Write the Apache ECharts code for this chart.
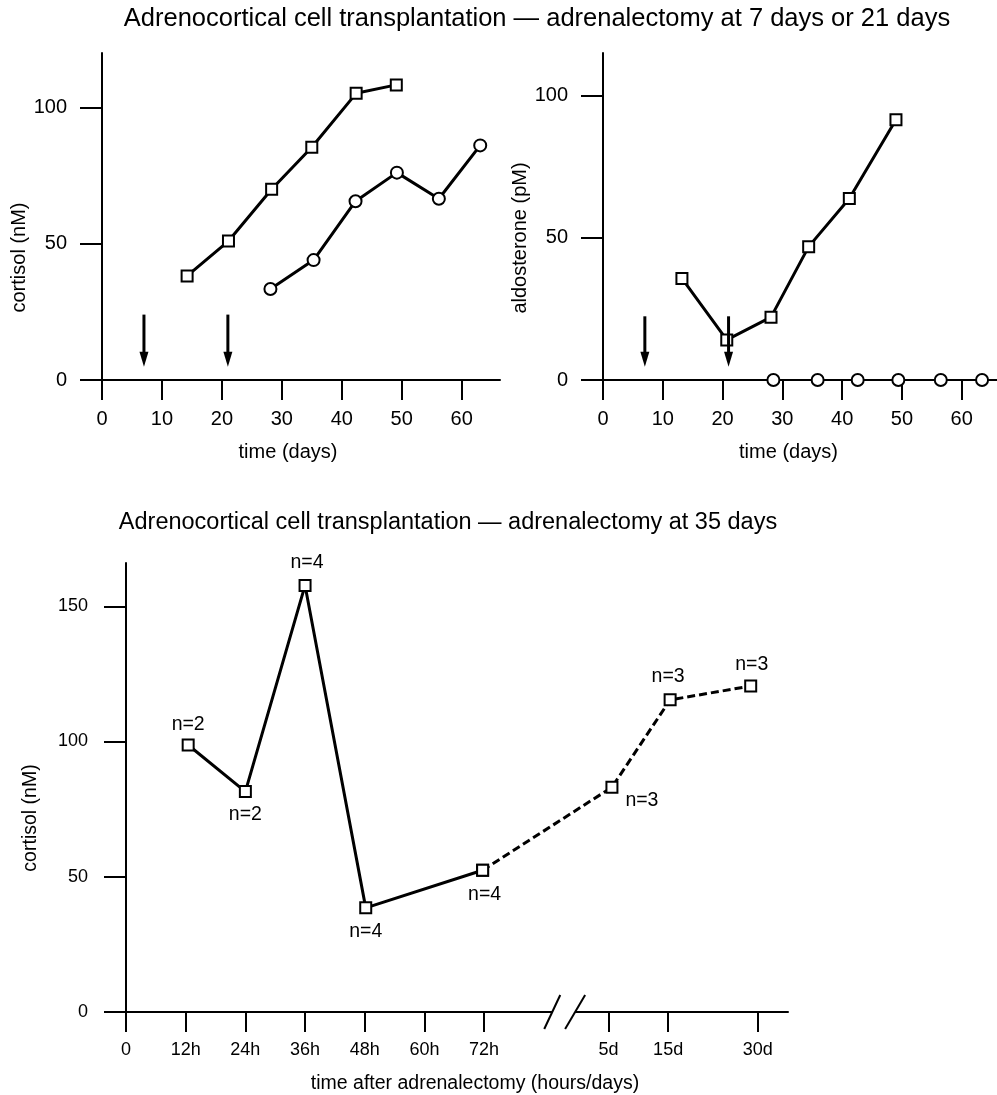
<!DOCTYPE html>
<html>
<head>
<meta charset="utf-8">
<script src="https://cdn.jsdelivr.net/npm/echarts@6/dist/echarts.min.js"></script>
<style>
html,body{margin:0;padding:0;background:#fff;}
#main{width:997px;height:1095px;}
</style>
</head>
<body>
<div id="main"></div>
<script>
// ---------- DATA ----------
// Top-left: cortisol (nM) vs time (days)
const cortSqDays = [14.2, 21.1, 28.3, 35.0, 42.4, 49.1];
const cortSqVals = [38.2, 51.0, 70.0, 85.4, 105.2, 108.3];
const cortCiDays = [28.1, 35.3, 42.3, 49.2, 56.2, 63.1];
const cortCiVals = [33.4, 44.0, 65.6, 76.1, 66.5, 86.1];
// Top-right: aldosterone (pM) vs time (days)
const aldoSqDays = [13.2, 20.7, 28.1, 34.4, 41.2, 49.0];
const aldoSqVals = [35.7, 14.1, 22.1, 46.9, 63.8, 91.5];
const aldoCiDays = [28.5, 35.9, 42.6, 49.4, 56.5, 63.4];
const aldoCiVals = [0, 0, 0, 0, 0, 0];
// Adrenalectomy arrows (days)
const arrowDays = [7, 21];
// Bottom: cortisol after adrenalectomy at 35 days
const botPositions = [12.5, 24, 36, 48.2, 71.7, 97.7, 109.4, 125.6];
const botVals = [98.7, 81.5, 157.7, 38.5, 52.4, 83.1, 115.4, 120.5];
const botN = ['n=2', 'n=2', 'n=4', 'n=4', 'n=4', 'n=3', 'n=3', 'n=3'];
const solidCount = 5; // first 5 points joined by solid line, rest dashed
// Tick labels
const dayTicks = [0, 10, 20, 30, 40, 50, 60];
const topLeftYTicks = [0, 50, 100];
const topRightYTicks = [0, 50, 100];
const botYTicks = [0, 50, 100, 150];
const botTickPositions = [0, 12, 24, 36, 48, 60, 72, 97, 109, 127];
const botTickLabels = ['0', '12h', '24h', '36h', '48h', '60h', '72h', '5d', '15d', '30d'];
const titleTop = 'Adrenocortical cell transplantation \u2014 adrenalectomy at 7 days or 21 days';
const titleBottom = 'Adrenocortical cell transplantation \u2014 adrenalectomy at 35 days';

// ---------- STYLE ----------
const FONT = "'Liberation Sans', Arial, Helvetica, sans-serif";
const FS_TOP = 20;      // top panels tick labels / names
const FS_BOT_TICK = 18; // bottom panel tick labels
const FS_BOT = 19.5;    // bottom panel names / n labels
const labelOffsets = [[0, -20], [0, 23], [2, -23], [0, 24], [2, 24], [30, 13], [-2, -23], [1, -21.5]];

function xAxisCfg(grid, max, ticks, name, namePad, fs, nfs, fmt) {
  return {
    type: 'value', gridIndex: grid, min: 0, max: max,
    axisLine: { onZero: false, lineStyle: { color: '#000', width: 2 } },
    axisTick: { length: 20, lineStyle: { color: '#000', width: 2 }, customValues: ticks },
    axisLabel: { color: '#000', fontSize: fs, fontFamily: FONT, margin: 29, customValues: ticks,
      formatter: fmt || (v => String(v)) },
    splitLine: { show: false },
    name: name, nameLocation: 'middle', nameGap: 62,
    nameTextStyle: { color: '#000', fontSize: nfs, fontFamily: FONT, padding: namePad }
  };
}
function yAxisCfg(grid, max, ticks, name, nameGap, namePad, margin, fs, nfs) {
  return {
    type: 'value', gridIndex: grid, min: 0, max: max,
    axisLine: { onZero: false, lineStyle: { color: '#000', width: 2 } },
    axisTick: { length: 22, lineStyle: { color: '#000', width: 2 }, customValues: ticks },
    axisLabel: { color: '#000', fontSize: fs, fontFamily: FONT, margin: margin, customValues: ticks },
    splitLine: { show: false },
    name: name, nameLocation: 'middle', nameRotate: 90, nameGap: nameGap,
    nameTextStyle: { color: '#000', fontSize: nfs, fontFamily: FONT, padding: namePad }
  };
}
function zip(a, b) { return a.map((v, i) => [v, b[i]]); }

const sqSymbol = { symbol: 'rect', symbolSize: 11, itemStyle: { color: '#fff', borderColor: '#000', borderWidth: 2 } };
const ciSymbol = { symbol: 'circle', symbolSize: 12, itemStyle: { color: '#fff', borderColor: '#000', borderWidth: 2 } };

function arrowSeries(xi, yi, top, tip) {
  return {
    type: 'custom', xAxisIndex: xi, yAxisIndex: yi, silent: true, z: 5,
    data: arrowDays.map(d => [d, top, tip]),
    renderItem: function (params, api) {
      const p1 = api.coord([api.value(0), api.value(1)]);
      const p2 = api.coord([api.value(0), api.value(2)]);
      const headH = 15, headW = 9;
      return {
        type: 'group',
        children: [
          { type: 'line', shape: { x1: p1[0], y1: p1[1], x2: p2[0], y2: p2[1] - headH + 2 },
            style: { stroke: '#000', lineWidth: 3 } },
          { type: 'polygon', shape: { points: [[p2[0] - headW / 2, p2[1] - headH], [p2[0] + headW / 2, p2[1] - headH], [p2[0], p2[1]]] },
            style: { fill: '#000' } }
        ]
      };
    }
  };
}

const chart = echarts.init(document.getElementById('main'), null, { renderer: 'canvas' });

const solidData = zip(botPositions, botVals).slice(0, solidCount);
const dashData = zip(botPositions, botVals).slice(solidCount - 1);

const option = {
  backgroundColor: '#fff',
  animation: false,
  textStyle: { fontFamily: FONT },
  grid: [
    { left: 102, top: 53, width: 398, height: 327 },
    { left: 603, top: 53, width: 394, height: 327 },
    { left: 126, top: 563, width: 662, height: 451 }
  ],
  xAxis: [
    xAxisCfg(0, 66.4, dayTicks, 'time (days)', [0, 26, 0, 0], FS_TOP, FS_TOP),
    xAxisCfg(1, 65.9, dayTicks, 'time (days)', [0, 23, 0, 0], FS_TOP, FS_TOP),
    xAxisCfg(2, 133.1, botTickPositions, 'time after adrenalectomy (hours/days)', [0, 0, 0, 36], FS_BOT_TICK, FS_BOT,
      v => { const i = botTickPositions.indexOf(v); return i >= 0 ? botTickLabels[i] : ''; })
  ],
  yAxis: [
    yAxisCfg(0, 120, topLeftYTicks, 'cortisol (nM)', 71, [0, 82, 0, 0], 35, FS_TOP, FS_TOP),
    yAxisCfg(1, 115, topRightYTicks, 'aldosterone (pM)', 67, [0, 43, 0, 0], 35, FS_TOP, FS_TOP),
    yAxisCfg(2, 166, botYTicks, 'cortisol (nM)', 85, [0, 61, 0, 0], 38, FS_BOT_TICK, FS_BOT)
  ],
  series: [
    Object.assign({ type: 'line', xAxisIndex: 0, yAxisIndex: 0, data: zip(cortSqDays, cortSqVals),
      lineStyle: { color: '#000', width: 3 }, z: 3 }, sqSymbol),
    Object.assign({ type: 'line', xAxisIndex: 0, yAxisIndex: 0, data: zip(cortCiDays, cortCiVals),
      lineStyle: { color: '#000', width: 3 }, z: 3 }, ciSymbol),
    arrowSeries(0, 0, 24, 4.9),
    Object.assign({ type: 'line', xAxisIndex: 1, yAxisIndex: 1, data: zip(aldoSqDays, aldoSqVals),
      lineStyle: { color: '#000', width: 3 }, z: 3 }, sqSymbol),
    Object.assign({ type: 'line', xAxisIndex: 1, yAxisIndex: 1, data: zip(aldoCiDays, aldoCiVals),
      lineStyle: { color: '#000', width: 2 }, z: 3 }, ciSymbol),
    arrowSeries(1, 1, 22.4, 4.65),
    Object.assign({ type: 'line', xAxisIndex: 2, yAxisIndex: 2, data: solidData,
      lineStyle: { color: '#000', width: 3 }, z: 3,
      label: { show: true, position: 'inside', color: '#000', fontSize: FS_BOT, fontFamily: FONT,
        formatter: p => botN[p.dataIndex] },
      labelLayout: p => ({ dx: labelOffsets[p.dataIndex][0], dy: labelOffsets[p.dataIndex][1] })
    }, sqSymbol),
    Object.assign({ type: 'line', xAxisIndex: 2, yAxisIndex: 2, data: dashData,
      lineStyle: { color: '#000', width: 3, type: [8, 4] }, z: 2,
      label: { show: true, position: 'inside', color: '#000', fontSize: FS_BOT, fontFamily: FONT,
        formatter: p => p.dataIndex === 0 ? '' : botN[p.dataIndex + solidCount - 1] },
      labelLayout: p => { const o = labelOffsets[p.dataIndex + solidCount - 1]; return { dx: o[0], dy: o[1] }; }
    }, sqSymbol)
  ]
};
chart.setOption(option);

// axis break marks on the bottom time axis (between 72h and 5d)
const b1 = chart.convertToPixel({ gridIndex: 2 }, [85.7, 0]);
const b2 = chart.convertToPixel({ gridIndex: 2 }, [90.3, 0]);
chart.setOption({
  graphic: [
    { type: 'text', style: { text: titleTop,
      x: 537, y: 19, textAlign: 'center', textVerticalAlign: 'middle', fontSize: 25.5, fontFamily: FONT, fill: '#000' } },
    { type: 'text', style: { text: titleBottom,
      x: 448, y: 523, textAlign: 'center', textVerticalAlign: 'middle', fontSize: 23.5, fontFamily: FONT, fill: '#000' } },
    { type: 'rect', shape: { x: b1[0], y: b1[1] - 3, width: b2[0] - b1[0], height: 6 }, style: { fill: '#fff' }, z: 100 },
    { type: 'line', shape: { x1: b1[0] - 8, y1: b1[1] + 17, x2: b1[0] + 8, y2: b1[1] - 17 }, style: { stroke: '#000', lineWidth: 2 }, z: 101 },
    { type: 'line', shape: { x1: b2[0] - 10, y1: b2[1] + 17, x2: b2[0] + 10, y2: b2[1] - 17 }, style: { stroke: '#000', lineWidth: 2 }, z: 101 }
  ]
});
</script>
</body>
</html>
